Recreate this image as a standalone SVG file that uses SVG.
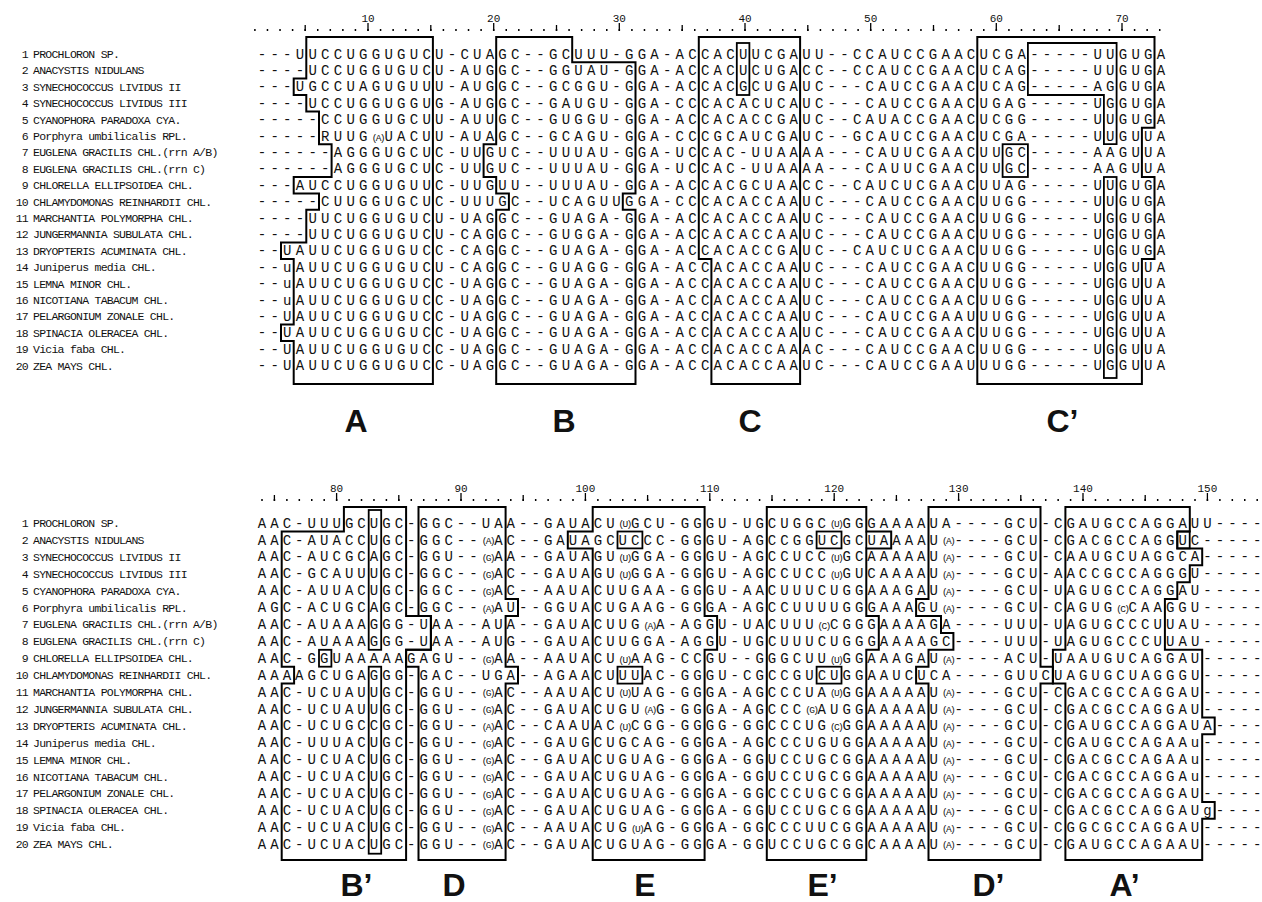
<svg xmlns="http://www.w3.org/2000/svg" width="1262" height="902" viewBox="0 0 1262 902">
<style>
text{fill:#111}
.seq{font-family:'Liberation Mono','DejaVu Sans Mono',monospace;font-size:14px;white-space:pre}
.t{letter-spacing:4.26px}
.b{letter-spacing:4.04px}
.z{letter-spacing:0}
.par{font-family:'Liberation Mono','DejaVu Sans Mono',monospace;font-size:9.5px;letter-spacing:-1.7px;text-anchor:middle}
.nm{font-family:'Liberation Mono','DejaVu Sans Mono',monospace;font-size:11.5px;letter-spacing:-0.75px;white-space:pre}
.no{text-anchor:end}
.rn{font-family:'Liberation Mono','DejaVu Sans Mono',monospace;font-size:11px;text-anchor:middle}
.lab{font-family:'Liberation Sans',Arial,sans-serif;font-weight:bold;font-size:32px;text-anchor:middle}
.box{fill:none;stroke:#000;stroke-width:2;stroke-linejoin:miter}
.ib{fill:none;stroke:#000;stroke-width:1.8}
.dots{stroke:#000;stroke-width:1.8;fill:none}
.tk{stroke:#000;stroke-width:1.3}
</style>
<rect width="1262" height="902" fill="#fff"/>

<g id="ruler-top">
<line class="dots" x1="254.15" y1="30" x2="1160.5" y2="30" stroke-dasharray="1.5 11.067"/>
<g class="tk">
<line x1="305.2" y1="25" x2="305.2" y2="31"/><line x1="430.8" y1="25" x2="430.8" y2="31"/><line x1="556.5" y1="25" x2="556.5" y2="31"/><line x1="682.2" y1="25" x2="682.2" y2="31"/><line x1="807.8" y1="25" x2="807.8" y2="31"/><line x1="933.5" y1="25" x2="933.5" y2="31"/><line x1="1059.2" y1="25" x2="1059.2" y2="31"/>
<line x1="368" y1="23" x2="368" y2="31"/><line x1="493.7" y1="23" x2="493.7" y2="31"/><line x1="619.3" y1="23" x2="619.3" y2="31"/><line x1="745" y1="23" x2="745" y2="31"/><line x1="870.7" y1="23" x2="870.7" y2="31"/><line x1="996.3" y1="23" x2="996.3" y2="31"/><line x1="1122" y1="23" x2="1122" y2="31"/>
</g>
<text class="rn" x="368" y="22">10</text><text class="rn" x="493.7" y="22">20</text><text class="rn" x="619.3" y="22">30</text><text class="rn" x="745" y="22">40</text><text class="rn" x="870.7" y="22">50</text><text class="rn" x="996.3" y="22">60</text><text class="rn" x="1122" y="22">70</text>
</g>

<g id="ruler-bottom">
<line class="dots" x1="261.25" y1="500" x2="1258" y2="500" stroke-dasharray="1.5 10.94"/>
<g class="tk">
<line x1="274.4" y1="495" x2="274.4" y2="501"/><line x1="398.8" y1="495" x2="398.8" y2="501"/><line x1="523.2" y1="495" x2="523.2" y2="501"/><line x1="647.6" y1="495" x2="647.6" y2="501"/><line x1="772" y1="495" x2="772" y2="501"/><line x1="896.4" y1="495" x2="896.4" y2="501"/><line x1="1020.8" y1="495" x2="1020.8" y2="501"/><line x1="1145.2" y1="495" x2="1145.2" y2="501"/>
<line x1="336.6" y1="493" x2="336.6" y2="501"/><line x1="461" y1="493" x2="461" y2="501"/><line x1="585.4" y1="493" x2="585.4" y2="501"/><line x1="709.8" y1="493" x2="709.8" y2="501"/><line x1="834.2" y1="493" x2="834.2" y2="501"/><line x1="958.6" y1="493" x2="958.6" y2="501"/><line x1="1083" y1="493" x2="1083" y2="501"/><line x1="1207.4" y1="493" x2="1207.4" y2="501"/>
</g>
<text class="rn" x="336.6" y="492">80</text><text class="rn" x="461" y="492">90</text><text class="rn" x="585.4" y="492">100</text><text class="rn" x="709.8" y="492">110</text><text class="rn" x="834.2" y="492">120</text><text class="rn" x="958.6" y="492">130</text><text class="rn" x="1083" y="492">140</text><text class="rn" x="1207.4" y="492">150</text>
</g>

<g id="names-top" class="nm">
<text class="no" x="28" y="58">1</text><text x="33" y="58">PROCHLORON SP.</text>
<text class="no" x="28" y="74.4">2</text><text x="33" y="74.4">ANACYSTIS NIDULANS</text>
<text class="no" x="28" y="90.8">3</text><text x="33" y="90.8">SYNECHOCOCCUS LIVIDUS II</text>
<text class="no" x="28" y="107.2">4</text><text x="33" y="107.2">SYNECHOCOCCUS LIVIDUS III</text>
<text class="no" x="28" y="123.6">5</text><text x="33" y="123.6">CYANOPHORA PARADOXA CYA.</text>
<text class="no" x="28" y="140">6</text><text x="33" y="140">Porphyra umbilicalis RPL.</text>
<text class="no" x="28" y="156.4">7</text><text x="33" y="156.4">EUGLENA GRACILIS CHL.(rrn A/B)</text>
<text class="no" x="28" y="172.8">8</text><text x="33" y="172.8">EUGLENA GRACILIS CHL.(rrn C)</text>
<text class="no" x="28" y="189.2">9</text><text x="33" y="189.2">CHLORELLA ELLIPSOIDEA CHL.</text>
<text class="no" x="28" y="205.6">10</text><text x="33" y="205.6">CHLAMYDOMONAS REINHARDII CHL.</text>
<text class="no" x="28" y="222">11</text><text x="33" y="222">MARCHANTIA POLYMORPHA CHL.</text>
<text class="no" x="28" y="238.4">12</text><text x="33" y="238.4">JUNGERMANNIA SUBULATA CHL.</text>
<text class="no" x="28" y="254.8">13</text><text x="33" y="254.8">DRYOPTERIS ACUMINATA CHL.</text>
<text class="no" x="28" y="271.2">14</text><text x="33" y="271.2">Juniperus media  CHL.</text>
<text class="no" x="28" y="287.6">15</text><text x="33" y="287.6">LEMNA MINOR CHL.</text>
<text class="no" x="28" y="304">16</text><text x="33" y="304">NICOTIANA TABACUM CHL.</text>
<text class="no" x="28" y="320.4">17</text><text x="33" y="320.4">PELARGONIUM ZONALE CHL.</text>
<text class="no" x="28" y="336.8">18</text><text x="33" y="336.8">SPINACIA OLERACEA CHL.</text>
<text class="no" x="28" y="353.2">19</text><text x="33" y="353.2">Vicia faba CHL.</text>
<text class="no" x="28" y="369.6">20</text><text x="33" y="369.6">ZEA MAYS CHL.</text>
</g>

<g id="names-bottom" class="nm">
<text class="no" x="28" y="527">1</text><text x="33" y="527">PROCHLORON SP.</text>
<text class="no" x="28" y="543.9">2</text><text x="33" y="543.9">ANACYSTIS NIDULANS</text>
<text class="no" x="28" y="560.8">3</text><text x="33" y="560.8">SYNECHOCOCCUS LIVIDUS II</text>
<text class="no" x="28" y="577.7">4</text><text x="33" y="577.7">SYNECHOCOCCUS LIVIDUS III</text>
<text class="no" x="28" y="594.6">5</text><text x="33" y="594.6">CYANOPHORA PARADOXA CYA.</text>
<text class="no" x="28" y="611.5">6</text><text x="33" y="611.5">Porphyra umbilicalis RPL.</text>
<text class="no" x="28" y="628.4">7</text><text x="33" y="628.4">EUGLENA GRACILIS CHL.(rrn A/B)</text>
<text class="no" x="28" y="645.3">8</text><text x="33" y="645.3">EUGLENA GRACILIS CHL.(rrn C)</text>
<text class="no" x="28" y="662.2">9</text><text x="33" y="662.2">CHLORELLA ELLIPSOIDEA CHL.</text>
<text class="no" x="28" y="679.1">10</text><text x="33" y="679.1">CHLAMYDOMONAS REINHARDII CHL.</text>
<text class="no" x="28" y="696">11</text><text x="33" y="696">MARCHANTIA POLYMORPHA CHL.</text>
<text class="no" x="28" y="712.9">12</text><text x="33" y="712.9">JUNGERMANNIA SUBULATA CHL.</text>
<text class="no" x="28" y="729.8">13</text><text x="33" y="729.8">DRYOPTERIS ACUMINATA CHL.</text>
<text class="no" x="28" y="746.7">14</text><text x="33" y="746.7">Juniperus media  CHL.</text>
<text class="no" x="28" y="763.6">15</text><text x="33" y="763.6">LEMNA MINOR CHL.</text>
<text class="no" x="28" y="780.5">16</text><text x="33" y="780.5">NICOTIANA TABACUM CHL.</text>
<text class="no" x="28" y="797.4">17</text><text x="33" y="797.4">PELARGONIUM ZONALE CHL.</text>
<text class="no" x="28" y="814.3">18</text><text x="33" y="814.3">SPINACIA OLERACEA CHL.</text>
<text class="no" x="28" y="831.2">19</text><text x="33" y="831.2">Vicia faba CHL.</text>
<text class="no" x="28" y="848.1">20</text><text x="33" y="848.1">ZEA MAYS CHL.</text>
</g>

<g id="seq-top" class="seq t">
<text x="257.8" y="58.6">---UUCCUGGUGUCU-CUAGC--GCUUU-GGA-ACCACUUCGAUU--CCAUCCGAACUCGA-----UUGUGA</text>
<text x="257.8" y="75">----UCCUGGUGUCU-AUGGC--GGUAU-GGA-ACCACUCUGACC--CCAUCCGAACUCAG-----UUGUGA</text>
<text x="257.8" y="91.4">---UGCCUAGUGUUU-AUGGC--GCGGU-GGA-ACCACGCUGAUC---CAUCCGAACUCAG-----AGGUGA</text>
<text x="257.8" y="107.8">----UCCUGGUGGUG-AUGGC--GAUGU-GGA-CCCACACUCAUC---CAUCCGAACUGAG-----UGGUGA</text>
<text x="257.8" y="124.2">-----CCUGGUGCUU-AUUGC--GUGGU-GGA-ACCACACCGAUC--CAUACCGAACUCGG-----UUGUGA</text>
<text x="257.8" y="140.6">-----RUUG</text><text x="384.4" y="140.6">UACUU-AUAGC--GCAGU-GGA-CCCGCAUCGAUC--GCAUCCGAACUCGA-----UUGUUA</text>
<text x="257.8" y="157">------AGGGUGCUC-UUGUC--UUUAU-GGA-UCCAC-UUAAAA---CAUUCGAACUUGC-----AAGUUA</text>
<text x="257.8" y="173.4">------AGGGUGCUC-UUGUC--UUUAU-GGA-UCCAC-UUAAAA---CAUUCGAACUUGC-----AAGUUA</text>
<text x="257.8" y="189.8">---AUCCUGGUGUUC-UUGUU--UUUAU-GGA-ACCACGCUAACC--CAUCUCGAACUUAG-----UUGUGA</text>
<text x="257.8" y="206.2">-----CUUGGUGCUC-UUUGC--UCAGUUGGA-CCCACACCAAUC---CAUCCGAACUUGG-----UUGUGA</text>
<text x="257.8" y="222.6">----UUCUGGUGUCU-UAGGC--GUAGA-GGA-ACCACACCAAUC---CAUCCGAACUUGG-----UGGUGA</text>
<text x="257.8" y="239">----UUCUGGUGUCU-CAGGC--GUGGA-GGA-ACCACACCAAUC---CAUCCGAACUUGG-----UGGUGA</text>
<text x="257.8" y="255.4">--UAUUCUGGUGUCC-CAGGC--GUAGA-GGA-ACCACACCGAUC--CAUCUCGAACUUGG-----UGGUGA</text>
<text x="257.8" y="271.8">--uAUUCUGGUGUCU-CAGGC--GUAGG-GGA-ACCACACCAAUC---CAUCCGAACUUGG-----UGGUUA</text>
<text x="257.8" y="288.2">--uAUUCUGGUGUCC-UAGGC--GUAGA-GGA-ACCACACCAAUC---CAUCCGAACUUGG-----UGGUUA</text>
<text x="257.8" y="304.6">--uAUUCUGGUGUCC-UAGGC--GUAGA-GGA-ACCACACCAAUC---CAUCCGAACUUGG-----UGGUUA</text>
<text x="257.8" y="321">--UAUUCUGGUGUCC-UAGGC--GUAGA-GGA-ACCACACCAAUC---CAUCCGAAUUUGG-----UGGUUA</text>
<text x="257.8" y="337.4">--UAUUCUGGUGUCC-UAGGC--GUAGA-GGA-ACCACACCAAUC---CAUCCGAACUUGG-----UGGUUA</text>
<text x="257.8" y="353.8">--UAUUCUGGUGUCC-UAGGC--GUAGA-GGA-ACCACACCAAAC---CAUCCGAACUUGG-----UGGUUA</text>
<text x="257.8" y="370.2">--UAUUCUGGUGUCC-UAGGC--GUAGA-GGA-ACCACACCAAUC---CAUCCGAAUUUGG-----UGGUUA</text>
</g>
<g id="par-top" class="par"><text x="377.8" y="140.6">(A)</text></g>

<g id="seq-bottom" class="seq b">
<text x="257.8" y="527.6">AAC-UUUGCUGC-GGC--UAA--GAUACU</text><text x="631" y="527.6">GCU-GGGU-UGCUGGC</text><text x="842.48" y="527.6">GGGAAAAUA----GCU-CGAUGCCAGGAUU---<tspan class="z">-</tspan></text>
<text x="257.8" y="544.5">AAC-AUACCUGC-GGC--</text><text x="494.16" y="544.5">AC--GAUAGCUCCC-GGGU-AGCCGGUCGCUAAAAU</text><text x="954.44" y="544.5">----GCU-CGACGCCAGGUC----<tspan class="z">-</tspan></text>
<text x="257.8" y="561.4">AAC-AUCGCAGC-GGU--</text><text x="494.16" y="561.4">AA--GAUAGU</text><text x="631" y="561.4">GGA-GGGU-AGCCUCC</text><text x="842.48" y="561.4">GCAAAAAU</text><text x="954.44" y="561.4">----GCU-CAAUGCUAGGCA----<tspan class="z">-</tspan></text>
<text x="257.8" y="578.3">AAC-GCAUUUGC-GGC--</text><text x="494.16" y="578.3">AC--GAUAGU</text><text x="631" y="578.3">GGA-GGGU-AGCCUCC</text><text x="842.48" y="578.3">GUCAAAAU</text><text x="954.44" y="578.3">----GCU-AACCGCCAGGGU----<tspan class="z">-</tspan></text>
<text x="257.8" y="595.2">AAC-AUUACUGC-GGC--</text><text x="494.16" y="595.2">AC--AAUACUUGAA-GGGU-AACUUUCUGGAAAGAU</text><text x="954.44" y="595.2">----GCU-UAGUGCCAGGAU----<tspan class="z">-</tspan></text>
<text x="257.8" y="612.1">AGC-ACUGCAGC-GGC--</text><text x="494.16" y="612.1">AU--GGUACUGAAG-GGGA-AGCCUUUUGGGAAAGU</text><text x="954.44" y="612.1">----GCU-CAGUG</text><text x="1128.6" y="612.1">CAAGGU----<tspan class="z">-</tspan></text>
<text x="257.8" y="629">AAC-AUAAAGGG-UAA--AUA--GAUACUUG</text><text x="655.88" y="629">A-AGGU-UACUUU</text><text x="830.04" y="629">CGGGAAAAGA----UUU-UAGUGCCCUUAU----<tspan class="z">-</tspan></text>
<text x="257.8" y="645.9">AAC-AUAAAGGG-UAA--AUG--GAUACUUGGA-AGGU-UGCUUUCUGGGAAAAGC----UUU-UAGUGCCCUUAU----<tspan class="z">-</tspan></text>
<text x="257.8" y="662.8">AAC-GGUAAAAAGAGU--</text><text x="494.16" y="662.8">AA--AAUACU</text><text x="631" y="662.8">AAG-CCGU--GGGCUU</text><text x="842.48" y="662.8">GGAAAGAU</text><text x="954.44" y="662.8">----ACU-UAAUGUCAGGAU----<tspan class="z">-</tspan></text>
<text x="257.8" y="679.7">AAAAGCUGAGGG-GAC--UGA--AGAACUUUAC-GGGU-CGCCGUCUGGAAUCUCA----GUUCUAGUGCUAGGGU----<tspan class="z">-</tspan></text>
<text x="257.8" y="696.6">AAC-UCUAUUGC-GGU--</text><text x="494.16" y="696.6">AC--AAUACU</text><text x="631" y="696.6">UAG-GGGA-AGCCCUA</text><text x="842.48" y="696.6">GGAAAAAU</text><text x="954.44" y="696.6">----GCU-CGACGCCAGGAU----<tspan class="z">-</tspan></text>
<text x="257.8" y="713.5">AAC-UCUAUUGC-GGU--</text><text x="494.16" y="713.5">AC--GAUACUGU</text><text x="655.88" y="713.5">G-GGGA-AGCCC</text><text x="817.6" y="713.5">AUGGAAAAAU</text><text x="954.44" y="713.5">----GCU-CGACGCCAGGAU----<tspan class="z">-</tspan></text>
<text x="257.8" y="730.4">AAC-UCUGCCGC-GGU--</text><text x="494.16" y="730.4">AC--CAAUAC</text><text x="631" y="730.4">CGG-GGGG-GGCCCUG</text><text x="842.48" y="730.4">GGAAAAAU</text><text x="954.44" y="730.4">----GCU-CGAUGCCAGGAUA---<tspan class="z">-</tspan></text>
<text x="257.8" y="747.3">AAC-UUUACUGC-GGU--</text><text x="494.16" y="747.3">AC--GAUGCUGCAG-GGGA-AGCCCUGUGGAAAAAU</text><text x="954.44" y="747.3">----GCU-CGAUGCCAGAAu----<tspan class="z">-</tspan></text>
<text x="257.8" y="764.2">AAC-UCUACUGC-GGU--</text><text x="494.16" y="764.2">AC--GAUACUGUAG-GGGA-GGUCCUGCGGAAAAAU</text><text x="954.44" y="764.2">----GCU-CGACGCCAGAAu----<tspan class="z">-</tspan></text>
<text x="257.8" y="781.1">AAC-UCUACUGC-GGU--</text><text x="494.16" y="781.1">AC--GAUACUGUAG-GGGA-GGUCCUGCGGAAAAAU</text><text x="954.44" y="781.1">----GCU-CGACGCCAGGAu----<tspan class="z">-</tspan></text>
<text x="257.8" y="798">AAC-UCUACUGC-GGU--</text><text x="494.16" y="798">AC--GAUACUGUAG-GGGA-GGCCCUGCGGAAAAAU</text><text x="954.44" y="798">----GCU-CGACGCCAGGAU----<tspan class="z">-</tspan></text>
<text x="257.8" y="814.9">AAC-UCUACUGC-GGU--</text><text x="494.16" y="814.9">AC--GAUACUGUAG-GGGA-GGUCCUGCGGAAAAAU</text><text x="954.44" y="814.9">----GCU-CGACGCCAGGAUg---<tspan class="z">-</tspan></text>
<text x="257.8" y="831.8">AAC-UCUACUGC-GGU--</text><text x="494.16" y="831.8">AC--AAUACUG</text><text x="643.44" y="831.8">AG-GGGA-GGCCCUUCGGAAAAAU</text><text x="954.44" y="831.8">----GCU-CGGCGCCAGGAU----<tspan class="z">-</tspan></text>
<text x="257.8" y="848.7">AAC-UCUACUGC-GGU--</text><text x="494.16" y="848.7">AC--GAUACUGUAG-GGGA-GGUCCUGCGGCAAAAU</text><text x="954.44" y="848.7">----GCU-CGAUGCCAGAAU----<tspan class="z">-</tspan></text>
</g>

<g id="par-bottom" class="par">
<text x="624.6" y="527.3">(U)</text><text x="836" y="527.3">(U)</text>
<text x="487.7" y="544.2">(A)</text><text x="948" y="544.2">(A)</text>
<text x="487.7" y="561.1">(G)</text><text x="624.6" y="561.1">(U)</text><text x="836" y="561.1">(U)</text><text x="948" y="561.1">(A)</text>
<text x="487.7" y="578">(G)</text><text x="624.6" y="578">(U)</text><text x="836" y="578">(U)</text><text x="948" y="578">(A)</text>
<text x="487.7" y="594.9">(G)</text><text x="948" y="594.9">(A)</text>
<text x="487.7" y="611.8">(A)</text><text x="948" y="611.8">(A)</text><text x="1122.2" y="611.8">(C)</text>
<text x="649.4" y="628.7">(A)</text><text x="823.6" y="628.7">(C)</text>
<text x="487.7" y="662.5">(G)</text><text x="624.6" y="662.5">(U)</text><text x="836" y="662.5">(U)</text><text x="948" y="662.5">(A)</text>
<text x="487.7" y="696.3">(G)</text><text x="624.6" y="696.3">(U)</text><text x="836" y="696.3">(U)</text><text x="948" y="696.3">(A)</text>
<text x="487.7" y="713.2">(G)</text><text x="649.4" y="713.2">(A)</text><text x="811.2" y="713.2">(G)</text><text x="948" y="713.2">(A)</text>
<text x="487.7" y="730.1">(A)</text><text x="624.6" y="730.1">(U)</text><text x="836" y="730.1">(C)</text><text x="948" y="730.1">(A)</text>
<text x="487.7" y="747">(G)</text><text x="948" y="747">(A)</text>
<text x="487.7" y="763.9">(G)</text><text x="948" y="763.9">(A)</text>
<text x="487.7" y="780.8">(G)</text><text x="948" y="780.8">(A)</text>
<text x="487.7" y="797.7">(G)</text><text x="948" y="797.7">(A)</text>
<text x="487.7" y="814.6">(G)</text><text x="948" y="814.6">(A)</text>
<text x="487.7" y="831.5">(G)</text><text x="637" y="831.5">(U)</text><text x="948" y="831.5">(A)</text>
<text x="487.7" y="848.4">(G)</text><text x="948" y="848.4">(A)</text>
</g>

<g id="boxes-top">
<path id="box-A" class="box" d="M306.3,37 H432.9 V384 H293.7 V341 H281 V324.6 H293.7 V259 H281 V242.6 H306.3 V209.8 H319 V193.4 H293.7 V177 H331.6 V144.2 H319 V111.4 H306.3 V95 H293.7 V78.6 H306.3 Z"/>
<path id="box-B" class="box" d="M496.2,37 H572.2 V62.2 H635.5 V193.4 H622.8 V209.8 H635.5 V384 H496.2 V209.8 H508.9 V193.4 H496.2 V177 H483.6 V144.2 H496.2 Z"/>
<path id="box-C" class="box" d="M698.8,37 H800.1 V384 H711.4 V259 H698.8 Z"/>
<rect class="ib" x="736.8" y="43" width="12.6" height="52"/>
<path id="box-C2" class="box" d="M977.3,37 H1154.5 V127.8 H1141.9 V177 H1154.5 V259 H1141.9 V384 H977.3 Z"/>
<path class="ib" d="M1027.9,43 H1116.6 V144.2 H1103.9 V95 H1027.9 Z"/>
<rect class="ib" x="1103.9" y="177" width="12.7" height="201"/>
<rect class="ib" x="1002.6" y="144.2" width="25.3" height="32.8"/>
</g>

<g id="boxes-bottom">
<path id="box-B2" class="box" d="M343.9,507 H406.1 V616 H430.9 V649.8 H406.1 V860 H281.7 V683.6 H294.1 V666.7 H281.7 V531.5 H343.9 Z"/>
<rect class="ib" x="368.7" y="510" width="12.5" height="139.8"/>
<rect class="ib" x="368.7" y="666.7" width="12.5" height="187"/>
<rect class="ib" x="319" y="649.8" width="12.4" height="16.9"/>
<path id="box-D" class="box" d="M418.5,507 H505.6 V599.1 H518 V616 H505.6 V666.7 H518 V683.6 H505.6 V860 H418.5 V666.7 H406.1 V649.8 H430.9 V616 H418.5 Z"/>
<path id="box-E" class="box" d="M592.7,507 H704.6 V616 H717.1 V649.8 H704.6 V860 H592.7 V548.4 H567.8 V531.5 H592.7 Z"/>
<rect class="ib" x="617.5" y="531.5" width="24.9" height="16.9"/>
<rect class="ib" x="617.5" y="666.7" width="24.9" height="16.9"/>
<path id="box-E2" class="box" d="M766.8,507 H866.3 V531.5 H891.2 V548.4 H866.3 V616 H878.8 V649.8 H866.3 V860 H766.8 Z"/>
<rect class="ib" x="816.6" y="531.5" width="24.9" height="16.9"/>
<line class="ib" x1="866.3" y1="531.5" x2="866.3" y2="548.4"/>
<rect class="ib" x="816.6" y="666.7" width="24.9" height="16.9"/>
<path id="box-D2" class="box" d="M928.5,507 H1040.5 V666.7 H1052.9 V683.6 H1040.5 V860 H928.5 V683.6 H916.1 V666.7 H928.5 V649.8 H953.4 V632.9 H941 V616 H916.1 V599.1 H928.5 Z"/>
<path id="box-A2" class="box" d="M1065.4,507 H1189.8 V531.5 H1177.3 V548.4 H1202.2 V565.3 H1189.8 V582.2 H1177.3 V599.1 H1164.9 V649.8 H1202.2 V717.4 H1214.7 V734.3 H1202.2 V801.9 H1214.7 V818.8 H1202.2 V860 H1065.4 V683.6 H1052.9 V649.8 H1065.4 Z"/>
<rect class="ib" x="1177.3" y="531.5" width="12.4" height="16.9"/>
</g>

<g id="labels" class="lab">
<text x="356" y="432">A</text>
<text x="564" y="432">B</text>
<text x="750" y="432">C</text>
<text x="1062.5" y="432">C’</text>
<text x="356.5" y="896">B’</text>
<text x="454" y="896">D</text>
<text x="645" y="896">E</text>
<text x="822.5" y="896">E’</text>
<text x="988.5" y="896">D’</text>
<text x="1124.5" y="896">A’</text>
</g>
</svg>
